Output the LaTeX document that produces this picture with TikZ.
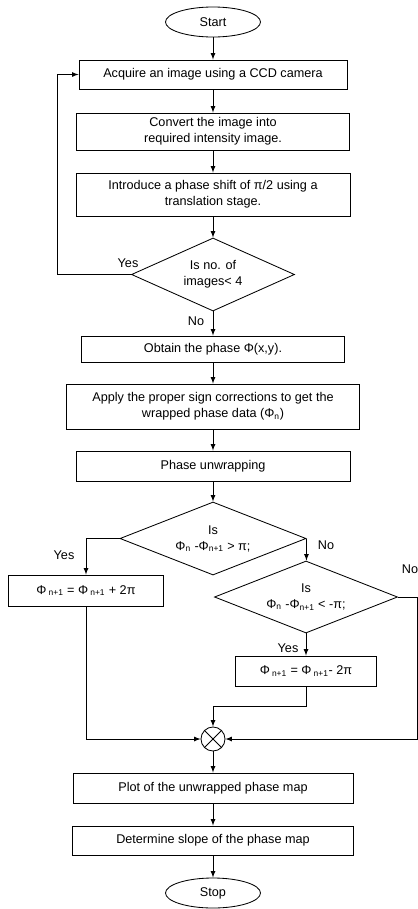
\documentclass[tikz,border=0pt]{standalone}
\usepackage{fontspec}
\setmainfont{Liberation Sans}
\usetikzlibrary{shapes.geometric}

\tikzstyle{every picture}+=[>=latex]
\tikzstyle{block}=[draw, rectangle, inner sep=1pt, align=center, line width=0.6pt]
\tikzstyle{term}=[draw, ellipse, minimum width=2.375cm, minimum height=0.75cm, inner sep=0pt, line width=0.6pt]
\tikzstyle{decision}=[draw, diamond, aspect=2.5, inner sep=0pt, align=center, line width=0.6pt]
\tikzstyle{line}=[draw, ->, line width=0.6pt]
\tikzstyle{lbl}=[inner sep=1pt]

\begin{document}
\begin{tikzpicture}[x=0.025cm, y=-0.025cm, font=\fontsize{9}{11.4}\selectfont]
	\useasboundingbox (0,0) rectangle (418,909);

	% main column
	\node[term] (start) at (213,22) {Start};
	\node[block, minimum width=6.7cm, minimum height=0.725cm] (acquire) at (213,74.5) {Acquire an image using a CCD camera};
	\node[block, minimum width=6.825cm, minimum height=0.925cm] (convert) at (213,131.5) {Convert the image into\\required intensity image.};
	\node[block, minimum width=6.85cm, minimum height=1.075cm] (shift) at (213,194.5) {Introduce a phase shift of π/2 using a\\translation stage.};
	\node[decision, minimum width=4.075cm, minimum height=1.825cm] (count) at (213,274.5) {Is no. of\\images< 4};
	\node[block, minimum width=6.575cm, minimum height=0.65cm] (obtain) at (213,349) {Obtain the phase Φ(x,y).};
	\node[block, minimum width=7.325cm, minimum height=1.125cm] (sign) at (213,406.5) {Apply the proper sign corrections to get the\\wrapped phase data (Φ\textsubscript{n})};
	\node[block, minimum width=6.85cm, minimum height=0.75cm] (unwrap) at (213,466) {Phase unwrapping};
	\node[decision, minimum width=4.65cm, minimum height=1.825cm] (jump) at (213,538.5) {Is\\Φ\textsubscript{n} -Φ\textsubscript{n+1} > π;};

	% branches
	\node[block, minimum width=3.875cm, minimum height=0.775cm] (addpi) at (86,590.5) {Φ\,\textsubscript{n+1} = Φ\,\textsubscript{n+1} + 2π};
	\node[decision, minimum width=4.575cm, minimum height=1.8cm] (drop) at (306,597) {Is\\Φ\textsubscript{n} -Φ\textsubscript{n+1} < -π;};
	\node[block, minimum width=3.525cm, minimum height=0.75cm] (subpi) at (306,671) {Φ\,\textsubscript{n+1} = Φ\,\textsubscript{n+1}- 2π};

	\node[draw, circle, minimum size=0.6cm, inner sep=0pt, line width=0.6pt] (sum) at (213,739) {};
	\draw[line width=0.6pt] (sum.north west) -- (sum.south east) (sum.north east) -- (sum.south west);

	\node[block, minimum width=7cm, minimum height=0.75cm] (plot) at (213,788) {Plot of the unwrapped phase map};
	\node[block, minimum width=7.025cm, minimum height=0.725cm] (slope) at (213,840.5) {Determine slope of the phase map};
	\node[term] (stop) at (213,893) {Stop};

	% labels
	\node[lbl] (yesA) at (128,263) {Yes};
	\node[lbl] (noA) at (196,321) {No};
	\node[lbl] (yesB) at (64,555) {Yes};
	\node[lbl] (noB) at (326,545) {No};
	\node[lbl] (noC) at (410,569) {No};
	\node[lbl] (yesC) at (288,648) {Yes};

	% bend points
	\coordinate (loopA) at (57,274.5);
	\coordinate (kneeB) at (306,706);
	\coordinate (edge) at (417,597);

	% connectors
	\path[line] (start) -- (acquire);
	\path[line] (acquire) -- (convert);
	\path[line] (convert) -- (shift);
	\path[line] (shift) -- (count);
	\path[line] (count.west) -- (loopA) |- (acquire.west);
	\path[line] (count) -- (obtain);
	\path[line] (obtain) -- (sign);
	\path[line] (sign) -- (unwrap);
	\path[line] (unwrap) -- (jump);
	\path[line] (jump.west) -| (addpi.north);
	\path[line] (jump.east) -- (jump.east |- drop.north);
	\path[line] (drop) -- (subpi);
	\path[line] (subpi.south) -- (kneeB) -| (sum.north);
	\path[line] (addpi.south) |- (sum.west);
	\path[line] (drop.east) -- (edge) |- (sum.east);
	\path[line] (sum) -- (plot);
	\path[line] (plot) -- (slope);
	\path[line] (slope) -- (stop);
\end{tikzpicture}
\end{document}
